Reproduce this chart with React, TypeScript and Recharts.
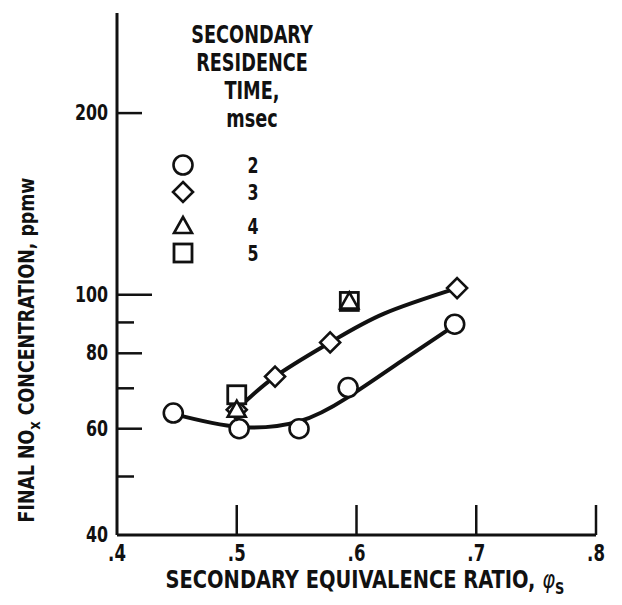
import React from 'react';
import { ComposedChart, Line, Scatter, XAxis, YAxis } from 'recharts';

// values
const xTicks = [0.4, 0.5, 0.6, 0.7, 0.8];
const yTicks = [40, 50, 60, 70, 80, 90, 100, 200];
const yTickLabels: Record<number, string> = { 40: '40', 60: '60', 80: '80', 100: '100', 200: '200' };

const circlePts = [
  { x: 0.447, y: 63.7 },
  { x: 0.502, y: 60.0 },
  { x: 0.552, y: 60.0 },
  { x: 0.593, y: 70.2 },
  { x: 0.682, y: 89.4 },
];
const diamondPts = [
  { x: 0.5, y: 64.5 },
  { x: 0.532, y: 73.2 },
  { x: 0.578, y: 83.4 },
  { x: 0.684, y: 102.6 },
];
const trianglePts = [
  { x: 0.5, y: 64.5 },
  { x: 0.594, y: 97.5 },
];
const squarePts = [
  { x: 0.5, y: 68.3 },
  { x: 0.594, y: 97.5 },
];

// faired curves as drawn on the figure
const lowerCurve = [
  { x: 0.447, y: 63.5 },
  { x: 0.502, y: 60.4 },
  { x: 0.552, y: 61.7 },
  { x: 0.592, y: 67.5 },
  { x: 0.639, y: 78.0 },
  { x: 0.682, y: 89.0 },
];
const upperCurve = [
  { x: 0.5, y: 64.5 },
  { x: 0.532, y: 73.2 },
  { x: 0.578, y: 83.4 },
  { x: 0.623, y: 93.1 },
  { x: 0.684, y: 102.6 },
];

const legendTitle = ['SECONDARY', 'RESIDENCE', 'TIME,', 'msec'];
const legendTimes = ['2', '3', '4', '5'];

const FONT = "'DejaVu Sans Condensed', 'Liberation Sans', sans-serif";
const INK = '#111';

// narrow bold text, squeezed horizontally like the original lettering
const Txt = ({ x, y, size, anchor = 'middle', sx = 0.8, children }: any) => (
  <text
    transform={`translate(${x},${y}) scale(${sx},1)`}
    textAnchor={anchor}
    fontFamily={FONT}
    fontWeight="bold"
    fontSize={size}
    fill={INK}
  >
    {children}
  </text>
);

const circle = (p: any) => (
  <circle cx={p.cx} cy={p.cy} r={9.5} fill="#fff" stroke={INK} strokeWidth={2.6} />
);
const diamond = (p: any) => (
  <path
    d={`M${p.cx},${p.cy - 10} L${p.cx + 10},${p.cy} L${p.cx},${p.cy + 10} L${p.cx - 10},${p.cy} Z`}
    fill="#fff"
    stroke={INK}
    strokeWidth={2.6}
  />
);
const triangle = (p: any) => (
  <path
    d={`M${p.cx},${p.cy - 9} L${p.cx + 9},${p.cy + 7} L${p.cx - 9},${p.cy + 7} Z`}
    fill="#fff"
    stroke={INK}
    strokeWidth={2.6}
  />
);
const square = (p: any) => (
  <rect x={p.cx - 9} y={p.cy - 9} width={18} height={18} fill="#fff" stroke={INK} strokeWidth={2.8} />
);
const legendShapes = [circle, diamond, triangle, square];
const legendRowY = [165, 192, 226, 253];

const YTick = (props: any) => {
  const { x, y, payload } = props;
  const v = payload.value;
  const len = v === 40 ? 0 : v === 100 ? 35 : yTickLabels[v] ? 25 : 17;
  return (
    <g>
      {len > 0 && <line x1={x} y1={y} x2={x + len} y2={y} stroke={INK} strokeWidth={2.5} />}
      {yTickLabels[v] && (
        <Txt x={x - 9} y={y + 7} size={22} anchor="end">
          {yTickLabels[v]}
        </Txt>
      )}
    </g>
  );
};

const XTick = (props: any) => {
  const { x, y, payload } = props;
  const v = payload.value;
  return (
    <g>
      {v > 0.4 && <line x1={x} y1={y} x2={x} y2={y - 30} stroke={INK} strokeWidth={2.5} />}
      <Txt x={x} y={y + 26} size={23}>
        {'.' + Math.round(v * 10)}
      </Txt>
    </g>
  );
};

export default function App() {
  return (
    <div style={{ position: 'absolute', left: 0, top: 0, width: 622, height: 605, background: '#fff' }}>
      <ComposedChart width={622} height={605} margin={{ top: 13, right: 26, left: 0, bottom: 0 }}>
        <XAxis
          type="number"
          dataKey="x"
          domain={[0.4, 0.8]}
          ticks={xTicks}
          height={70}
          tickSize={0}
          tickMargin={0}
          tick={<XTick />}
          axisLine={{ stroke: INK, strokeWidth: 3 }}
          interval={0}
        />
        <YAxis
          type="number"
          dataKey="y"
          scale="log"
          domain={[40, 293]}
          allowDataOverflow
          ticks={yTicks}
          width={117}
          tickSize={0}
          tickMargin={0}
          tick={<YTick />}
          axisLine={{ stroke: INK, strokeWidth: 3 }}
          interval={0}
        />
        <Line data={lowerCurve} dataKey="y" type="natural" stroke={INK} strokeWidth={4} dot={false} isAnimationActive={false} />
        <Line data={upperCurve} dataKey="y" type="natural" stroke={INK} strokeWidth={4} dot={false} isAnimationActive={false} />
        <Scatter data={circlePts} dataKey="y" shape={circle} isAnimationActive={false} />
        <Scatter data={diamondPts} dataKey="y" shape={diamond} isAnimationActive={false} />
        <Scatter data={squarePts} dataKey="y" shape={square} isAnimationActive={false} />
        <Scatter data={trianglePts} dataKey="y" shape={triangle} isAnimationActive={false} />
      </ComposedChart>
      <svg width={622} height={605} style={{ position: 'absolute', left: 0, top: 0, pointerEvents: 'none' }}>
        {/* legend */}
        {legendTitle.map((t, i) => (
          <Txt key={t} x={252} y={43 + i * 28} size={24} sx={0.82}>
            {t}
          </Txt>
        ))}
        {legendTimes.map((t, i) => (
          <g key={t}>
            {legendShapes[i]({ cx: 183, cy: legendRowY[i] })}
            <Txt x={253} y={legendRowY[i] + 8} size={22}>
              {t}
            </Txt>
          </g>
        ))}
        {/* axis titles */}
        <text
          transform="translate(34,350) rotate(-90) scale(0.92,1)"
          textAnchor="middle"
          fontFamily={FONT}
          fontWeight="bold"
          fontSize={21}
          fill={INK}
        >
          FINAL NO<tspan fontSize={16} dy={6}>x</tspan>
          <tspan dy={-6}>{'  CONCENTRATION,  ppmw'}</tspan>
        </text>
        <text
          transform="translate(365,588) scale(0.9,1)"
          textAnchor="middle"
          fontFamily={FONT}
          fontWeight="bold"
          fontSize={24}
          fill={INK}
        >
          SECONDARY EQUIVALENCE RATIO,{' '}
          <tspan fontStyle="italic" fontWeight="normal">φ</tspan>
          <tspan fontSize={16} dy={6}>S</tspan>
        </text>
      </svg>
    </div>
  );
}
